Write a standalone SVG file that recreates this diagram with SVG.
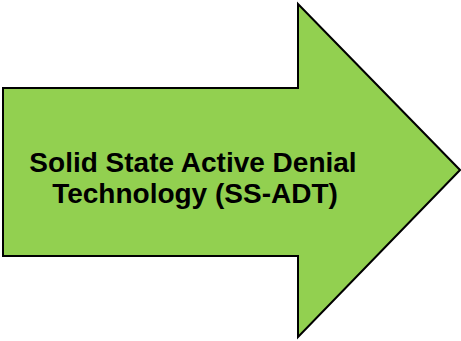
<svg xmlns="http://www.w3.org/2000/svg" width="461" height="341" viewBox="0 0 461 341">
<style>
.arrow{fill:#92D050;stroke:#000;stroke-width:2;stroke-linejoin:miter}
.lbl{font-family:"Liberation Sans",Arial,sans-serif;font-weight:bold;font-size:28px;fill:#000;text-anchor:middle}
</style>
<rect width="461" height="341" fill="#fff"/>
<g id="arrow">
<polygon class="arrow" points="3,88 298,88 298,4 460,170 298,337 298,256 3,256"/>
<text class="lbl" x="193" y="172">Solid State Active Denial</text>
<text class="lbl" x="195" y="203">Technology (SS-ADT)</text>
</g>
</svg>
